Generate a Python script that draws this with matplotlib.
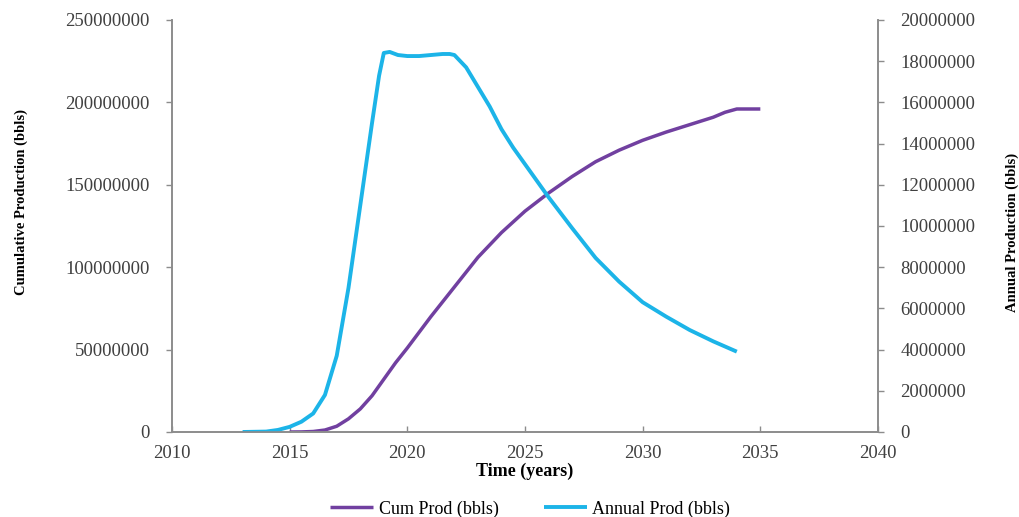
import matplotlib.pyplot as plt

# values (millions of bbls)
cum_years = [2015, 2015.5, 2016, 2016.5, 2017, 2017.5, 2018, 2018.5, 2019, 2019.5,
             2020, 2021, 2022, 2023, 2024, 2025, 2026, 2027, 2028, 2029, 2030,
             2031, 2032, 2033, 2033.5, 2034, 2035]
cum_prod = [0, 0.05, 0.3, 1.2, 3.5, 8, 14, 22, 32, 42,
            51, 70, 88, 106, 121, 134, 145, 155, 164, 171, 177,
            182, 186.5, 191, 194, 196, 196]

annual_years = [2013, 2014, 2014.5, 2015, 2015.5, 2016, 2016.5, 2017, 2017.5, 2018,
                2018.5, 2018.8, 2019, 2019.25, 2019.6, 2020, 2020.5, 2021, 2021.5,
                2021.8, 2022, 2022.5, 2023, 2023.5, 2024, 2024.5, 2025, 2025.5,
                2026, 2027, 2028, 2029, 2030, 2031, 2032, 2033, 2034]
annual_prod = [0, 0.02, 0.1, 0.25, 0.5, 0.9, 1.8, 3.7, 7.0, 11.0,
               15.0, 17.3, 18.4, 18.45, 18.3, 18.25, 18.25, 18.3, 18.35,
               18.35, 18.3, 17.7, 16.75, 15.8, 14.7, 13.8, 13.0, 12.2,
               11.4, 9.9, 8.45, 7.3, 6.3, 5.6, 4.95, 4.4, 3.9]

cum_prod = [v * 1e6 for v in cum_prod]
annual_prod = [v * 1e6 for v in annual_prod]

plt.rcParams['font.family'] = 'Liberation Serif'
tick_color = '#404040'
spine_color = '#8c8c8c'
purple = '#7140a0'
blue = '#1cb4e8'

fig = plt.figure(figsize=(10.19, 5.17), dpi=100)
ax = fig.add_axes([172 / 1019, 85 / 517, 706 / 1019, 412 / 517])
ax2 = ax.twinx()

l1, = ax.plot(cum_years, cum_prod, color=purple, lw=2.5, solid_capstyle='butt', label='Cum Prod (bbls)')
l2, = ax2.plot(annual_years, annual_prod, color=blue, lw=2.8, solid_capstyle='butt', label='Annual Prod (bbls)')

ax.set_xlim(2010, 2040)
ax.set_ylim(0, 250000000)
ax2.set_ylim(0, 20000000)
ax.set_xticks(range(2010, 2041, 5))
ax.set_yticks(range(0, 250000001, 50000000))
ax2.set_yticks(range(0, 20000001, 2000000))
ax.yaxis.set_major_formatter(plt.FuncFormatter(lambda v, p: '%d' % v))
ax2.yaxis.set_major_formatter(plt.FuncFormatter(lambda v, p: '%d' % v))

for a in (ax, ax2):
    a.spines['top'].set_visible(False)
    for s in ('left', 'right', 'bottom'):
        a.spines[s].set_color(spine_color)
        a.spines[s].set_linewidth(1.2)
    a.tick_params(colors=spine_color, labelcolor=tick_color, labelsize=13.5, length=4, width=1)
ax.tick_params(axis='y', pad=12)
ax2.tick_params(axis='y', pad=12)
ax.tick_params(axis='x', direction='in', pad=9)

ax.set_xlabel('Time (years)', fontsize=13, fontweight='bold', labelpad=1)
fig.text(21 / 1019, 1 - 202 / 517, 'Cumulative Production (bbls)', rotation=90,
         ha='center', va='center', fontsize=10.5, fontweight='bold')
fig.text(1012 / 1019, 1 - 232 / 517, 'Annual Production (bbls)', rotation=90,
         ha='center', va='center', fontsize=10.5, fontweight='bold')

fig.legend(handles=[l1, l2], loc='center', bbox_to_anchor=(530 / 1019, 1 - 509 / 517),
           ncol=2, frameon=False, fontsize=13, handlelength=2.4, handletextpad=0.3,
           columnspacing=2.5)

fig.savefig('out.png', dpi=100)
